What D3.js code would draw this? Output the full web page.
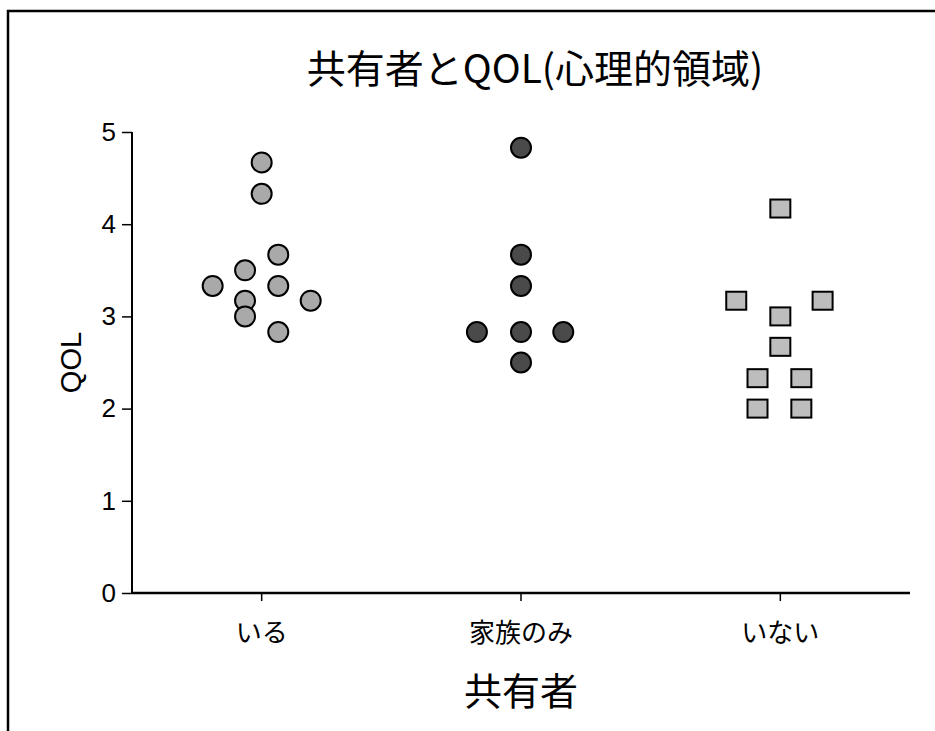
<!DOCTYPE html>
<html>
<head>
<meta charset="utf-8">
<script src="https://cdn.jsdelivr.net/npm/d3@7"></script>
<style>
  body { margin: 0; background: #fff; }
</style>
</head>
<body>
<svg id="svg"></svg>
<script>
// categories and values
const categories = ['いる', '家族のみ', 'いない'];
const yTicks = [0, 1, 2, 3, 4, 5];

// QOL score per person, one array per group
const iruValues = [4.67, 4.33, 3.67, 3.5, 3.33, 3.33, 3.17, 3.17, 3.0, 2.83];
const kazokuValues = [4.83, 3.67, 3.33, 2.83, 2.83, 2.83, 2.5];
const inaiValues = [4.17, 3.17, 3.17, 3.0, 2.67, 2.33, 2.33, 2.0, 2.0];

// horizontal dodge of each point, as a fraction of the category band
const iruJitter = [0, 0, 0.064, -0.064, -0.189, 0.064, -0.064, 0.189, -0.064, 0.064];
const kazokuJitter = [0, 0, 0, -0.17, 0, 0.163, 0];
const inaiJitter = [0, -0.17, 0.163, 0, 0, -0.088, 0.081, -0.088, 0.081];

const width = 935
const height = 731
const jpFont = '"Noto Sans CJK JP", sans-serif'
const latinFont = '"Liberation Sans", sans-serif'

const svg = d3.select('#svg')
  .attr('width', width)
  .attr('height', height);

// frame of the scanned page
svg.append('path')
  .attr('d', `M8,${height} L8,11 L${width},11`)
  .attr('fill', 'none')
  .attr('stroke', '#000')
  .attr('stroke-width', 2.5);

const margin = { left: 132, right: 25, top: 132, bottom: 138 };

const x = d3.scaleBand()
  .domain(categories)
  .range([margin.left, width - margin.right]);

const y = d3.scaleLinear()
  .domain([0, 5])
  .range([height - margin.bottom, margin.top]);

const jitter = d3.scaleLinear()
  .domain([0, 1])
  .range([0, x.bandwidth()]);

// y axis
const yAxis = svg.append('g')
  .attr('transform', `translate(${margin.left},0)`)
  .call(d3.axisLeft(y).tickValues(yTicks).tickSize(10).tickPadding(6).tickFormat(d3.format('d')));
yAxis.select('.domain').attr('stroke-width', 2).attr('d', `M0,${y(5)}V${y(0)}`);
yAxis.selectAll('.tick line').attr('stroke-width', 1.5);
yAxis.selectAll('.tick text')
  .attr('font-size', '26px')
  .attr('font-family', latinFont)
  .attr('fill', '#000');

// x axis
const xAxis = svg.append('g')
  .attr('transform', `translate(0,${y(0)})`)
  .call(d3.axisBottom(x).tickSize(8).tickPadding(23));
xAxis.select('.domain').attr('stroke-width', 2.5).attr('d', `M${margin.left},0H${width - margin.right}`);
xAxis.selectAll('.tick line').attr('stroke-width', 1.5);
xAxis.selectAll('.tick text')
  .attr('font-size', '26px')
  .attr('font-family', jpFont)
  .attr('fill', '#000');

// titles
svg.append('text')
  .attr('x', 535)
  .attr('y', 83)
  .attr('text-anchor', 'middle')
  .attr('font-size', '39px')
  .attr('font-family', jpFont)
  .text('共有者とQOL(心理的領域)');

svg.append('text')
  .attr('transform', `translate(81,${(y(0) + y(5)) / 2}) rotate(-90)`)
  .attr('text-anchor', 'middle')
  .attr('font-size', '29px')
  .attr('font-family', latinFont)
  .text('QOL');

svg.append('text')
  .attr('x', x('家族のみ') + x.bandwidth() / 2)
  .attr('y', 705)
  .attr('text-anchor', 'middle')
  .attr('font-size', '38px')
  .attr('font-family', jpFont)
  .text('共有者');

// points
function cx(cat, j) {
  return x(cat) + x.bandwidth() / 2 + jitter(j);
}

svg.append('g')
  .selectAll('circle')
  .data(iruValues)
  .join('circle')
  .attr('cx', (d, i) => cx('いる', iruJitter[i]))
  .attr('cy', d => y(d))
  .attr('r', 10)
  .attr('fill', '#a9a9a9')
  .attr('stroke', '#000')
  .attr('stroke-width', 2);

svg.append('g')
  .selectAll('circle')
  .data(kazokuValues)
  .join('circle')
  .attr('cx', (d, i) => cx('家族のみ', kazokuJitter[i]))
  .attr('cy', d => y(d))
  .attr('r', 10)
  .attr('fill', '#4a4a4a')
  .attr('stroke', '#000')
  .attr('stroke-width', 2);

svg.append('g')
  .selectAll('rect')
  .data(inaiValues)
  .join('rect')
  .attr('x', (d, i) => cx('いない', inaiJitter[i]) - 10)
  .attr('y', d => y(d) - 9)
  .attr('width', 20)
  .attr('height', 18)
  .attr('fill', '#bdbdbd')
  .attr('stroke', '#000')
  .attr('stroke-width', 2);
</script>
</body>
</html>
